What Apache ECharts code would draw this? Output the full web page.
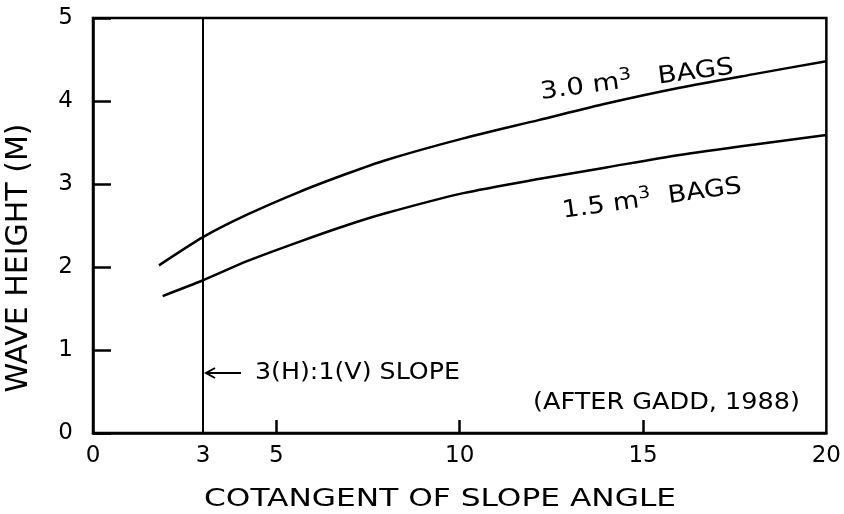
<!DOCTYPE html>
<html>
<head>
<meta charset="utf-8">
<script src="https://cdn.jsdelivr.net/npm/echarts@6/dist/echarts.min.js"></script>
<style>
html,body{margin:0;padding:0;background:#fff;}
#chart{width:844px;height:514px;}
</style>
</head>
<body>
<div id="chart"></div>
<script>
// Data
var bags30X = [1.8, 3.0, 4.2, 5.6, 6.9, 8.0, 10.1, 12.15, 14.0, 16.0, 18.1, 20.0];
var bags30Y = [2.02, 2.36, 2.63, 2.90, 3.12, 3.29, 3.55, 3.77, 3.97, 4.16, 4.33, 4.48];
var bags15X = [1.9, 3.0, 4.2, 5.6, 6.9, 8.0, 10.1, 12.15, 14.0, 16.0, 18.1, 20.0];
var bags15Y = [1.65, 1.84, 2.07, 2.30, 2.50, 2.65, 2.89, 3.06, 3.20, 3.35, 3.48, 3.59];
var xTickLabels = [0, 3, 5, 10, 15, 20];
var xTickMarks = [5, 10, 15];
var slopeLineX = 3;

var FONT = 'DejaVu Sans';
function pairs(xs, ys){ return xs.map(function(x,i){ return [x, ys[i]]; }); }

var chart = echarts.init(document.getElementById('chart'), null, {renderer:'canvas'});
var supRich = {sup: {fontSize: 17, fontFamily: FONT, fill: '#000', padding: [0,0,13,0]}};
var option = {
  backgroundColor: '#fff',
  animation: false,
  grid: {left: 93, right: 10, top: 18, bottom: 81, show: true, borderColor: '#000', borderWidth: 2.5},
  xAxis: {
    type: 'value', min: 0, max: 20,
    axisLine: {show: true, lineStyle: {color: '#000', width: 2.5}},
    axisTick: {show: true, inside: true, length: 13, customValues: xTickMarks, lineStyle: {color: '#000', width: 2.5}},
    axisLabel: {customValues: xTickLabels, margin: 12, color: '#000', fontSize: 23, fontFamily: FONT},
    splitLine: {show: false}
  },
  yAxis: {
    type: 'value', min: 0, max: 5, interval: 1,
    axisLine: {show: true, lineStyle: {color: '#000', width: 2.5}},
    axisTick: {show: true, inside: true, length: 18, lineStyle: {color: '#000', width: 2.5}},
    axisLabel: {margin: 20, color: '#000', fontSize: 23, fontFamily: FONT},
    splitLine: {show: false}
  },
  series: [
    {
      name: '3.0 m3 BAGS', type: 'line', showSymbol: false, smooth: 0.25,
      data: pairs(bags30X, bags30Y),
      lineStyle: {color: '#000', width: 2.5},
      markLine: {
        silent: true, symbol: ['none','none'],
        label: {show: false},
        lineStyle: {color: '#000', width: 2, type: 'solid'},
        data: [{xAxis: slopeLineX}]
      }
    },
    {
      name: '1.5 m3 BAGS', type: 'line', showSymbol: false, smooth: 0.25,
      data: pairs(bags15X, bags15Y),
      lineStyle: {color: '#000', width: 2.5}
    }
  ],
  graphic: [
    {type: 'text', x: 19, y: 258, rotation: Math.PI/2, style: {text: 'WAVE HEIGHT (M)', fontSize: 30, fontFamily: FONT, fill: '#000', align: 'center', verticalAlign: 'middle'}},
    {type: 'text', x: 440, y: 499, scaleX: 1.25, style: {text: 'COTANGENT OF SLOPE ANGLE', fontSize: 25, fontFamily: FONT, fill: '#000', align: 'center', verticalAlign: 'middle'}},
    {type: 'text', x: 637, y: 80, scaleX: 1.15, rotation: 7.5*Math.PI/180, style: {text: '3.0 m{sup|3}   BAGS', fontSize: 24, fontFamily: FONT, fill: '#000', align: 'center', verticalAlign: 'middle', rich: supRich}},
    {type: 'text', x: 652, y: 199, scaleX: 1.12, rotation: 8*Math.PI/180, style: {text: '1.5 m{sup|3}  BAGS', fontSize: 24, fontFamily: FONT, fill: '#000', align: 'center', verticalAlign: 'middle', rich: supRich}},
    {type: 'line', shape: {x1: 206, y1: 373, x2: 241, y2: 373}, style: {stroke: '#000', lineWidth: 2}},
    {type: 'polyline', shape: {points: [[215,368],[206,373],[215,378]]}, style: {stroke: '#000', lineWidth: 2, fill: null}},
    {type: 'text', x: 255, y: 373, scaleX: 1.1, style: {text: '3(H):1(V) SLOPE', fontSize: 23, fontFamily: FONT, fill: '#000', align: 'left', verticalAlign: 'middle'}},
    {type: 'text', x: 533, y: 403, scaleX: 1.11, style: {text: '(AFTER GADD, 1988)', fontSize: 23, fontFamily: FONT, fill: '#000', align: 'left', verticalAlign: 'middle'}}
  ]
};
chart.setOption(option);
</script>
</body>
</html>
